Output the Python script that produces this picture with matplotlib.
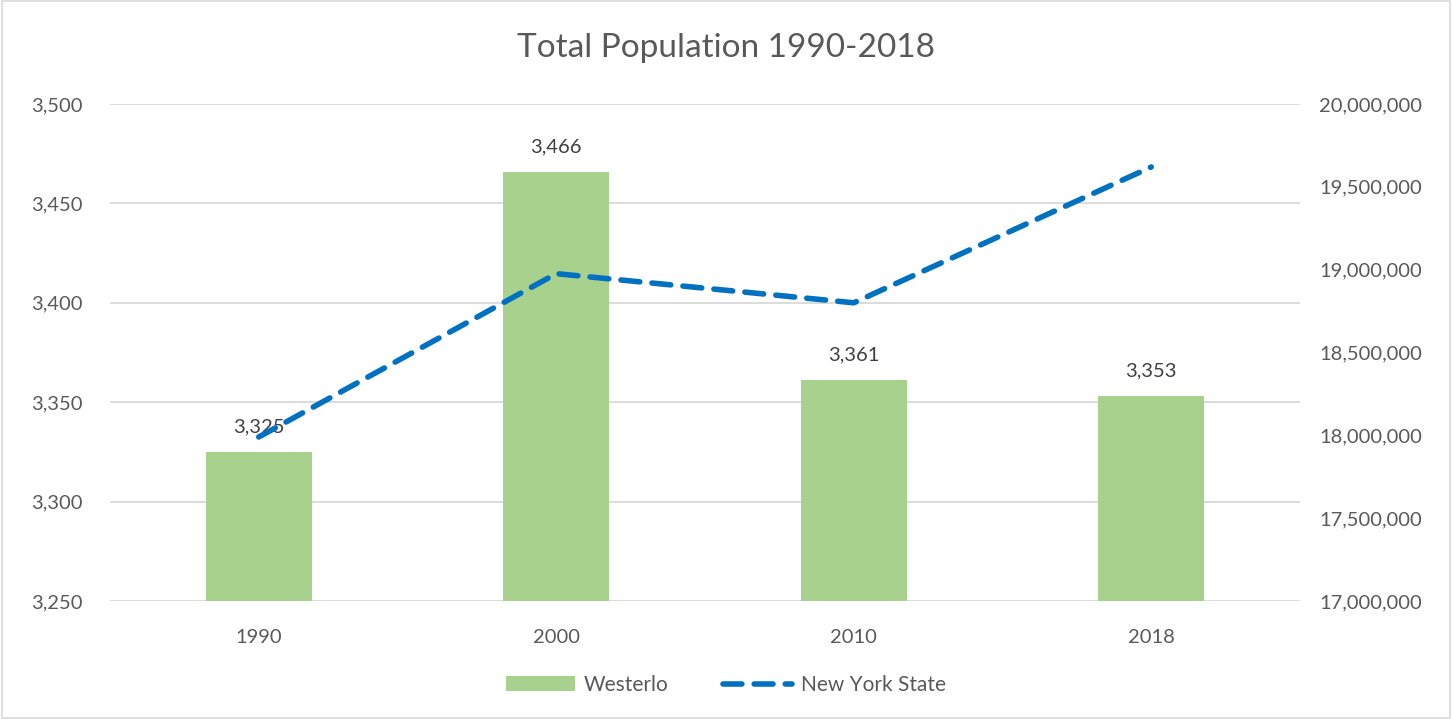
import numpy as np
import matplotlib.pyplot as plt
from matplotlib.patches import Rectangle
import matplotlib.ticker as mticker

years = ["1990", "2000", "2010", "2018"]
westerlo = [3325, 3466, 3361, 3353]
nys = [17990000, 18976000, 18800000, 19620000]

plt.rcParams['font.family'] = ['Lato', 'DejaVu Sans']
txt = '#595959'
grid_c = '#D9D9D9'

fig = plt.figure(figsize=(14.52, 7.19), dpi=100)
ax = fig.add_axes([110 / 1452, 1 - 601 / 719, 1190 / 1452, 497 / 719])
ax2 = ax.twinx()

x = np.arange(len(years))
bars = ax.bar(x, westerlo, width=0.356, color='#A9D18E', zorder=2, label='Westerlo')
ax.set_ylim(3250, 3500)
ax.set_xlim(-0.5, 3.5)
ax.yaxis.set_major_locator(mticker.MultipleLocator(50))
ax.yaxis.set_major_formatter(mticker.StrMethodFormatter('{x:,.0f}'))
ax.grid(axis='y', color=grid_c, lw=1.3, zorder=0)
ax.set_axisbelow(True)
ax.set_xticks(x, years)
for v, xi in zip(westerlo, x):
    ax.annotate(f"{v:,}", (xi, v), xytext=(0, 18), textcoords='offset points',
                ha='center', va='center', fontsize=14.5, color='#404040', zorder=5)

line, = ax2.plot(x, nys, color='#0070C0', lw=4, ls=(0, (3.4, 2.2)),
                 dash_capstyle='round', zorder=4, label='New York State')
ax2.set_ylim(17000000, 20000000)
ax2.yaxis.set_major_locator(mticker.MultipleLocator(500000))
ax2.yaxis.set_major_formatter(mticker.StrMethodFormatter('{x:,.0f}'))

for a in (ax, ax2):
    for s in a.spines.values():
        s.set_visible(False)
    a.tick_params(length=0, labelsize=14.5, colors=txt)
ax.tick_params(axis='y', pad=20)
ax.tick_params(axis='x', pad=20)
ax2.tick_params(axis='y', pad=14)

fig.text(0.5, 1 - 48 / 719, "Total Population 1990-2018", ha='center', va='center',
         fontsize=24, color=txt)

leg = fig.legend([bars, line], ['Westerlo', 'New York State'], loc='center',
                 bbox_to_anchor=(0.5, 1 - 685 / 719), ncol=2, frameon=False,
                 fontsize=15, labelcolor=txt, handlelength=3.3, columnspacing=2.6,
                 handletextpad=0.45, handleheight=0.7)

fig.patches.append(Rectangle((0.0015, 0.002), 0.997, 0.996, transform=fig.transFigure,
                             fill=False, edgecolor=grid_c, lw=1.2))

fig.savefig("out.png", dpi=100)
